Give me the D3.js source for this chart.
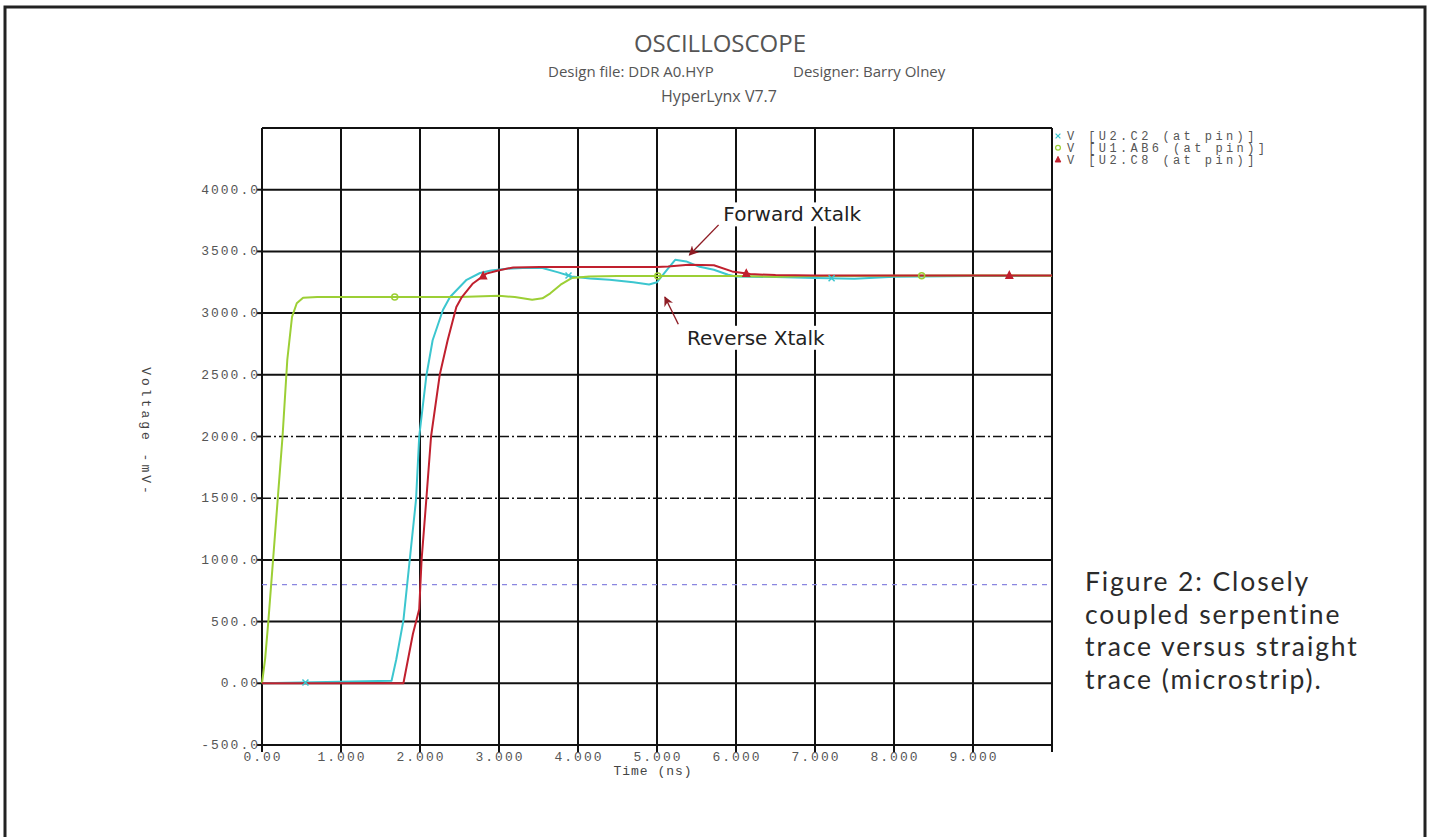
<!DOCTYPE html>
<html>
<head>
<meta charset="utf-8">
<script src="https://cdn.jsdelivr.net/npm/d3@7"></script>
<style>
  body { margin: 0; background: #fff; }
  svg { display: block; }
</style>
</head>
<body>
<svg id="chart" width="1433" height="837"></svg>
<script>
// axis ticks
const timeTicks = [0, 1, 2, 3, 4, 5, 6, 7, 8, 9];
const timeTickLabels = ['0.00', '1.000', '2.000', '3.000', '4.000', '5.000', '6.000', '7.000', '8.000', '9.000'];
const voltTicks = [-500, 0, 500, 1000, 1500, 2000, 2500, 3000, 3500, 4000];
const voltTickLabels = ['-500.0', '0.00', '500.0', '1000.0', '1500.0', '2000.0', '2500.0', '3000.0', '3500.0', '4000.0'];
const solidGridVolts = [-500, 0, 500, 1000, 2500, 3000, 3500, 4000, 4500];
const dashDotVolts = [1500, 2000];
const thresholdVolts = [800];

// V [U2.C2 (at pin)]  (cyan)
const c2Time = [0, 1.64, 1.70, 1.79, 1.87, 1.95, 1.99, 2.08, 2.16, 2.29, 2.38, 2.59, 2.76, 2.9, 3.1, 3.3, 3.55, 3.75, 3.92, 4.15, 4.4, 4.7, 4.9, 5.0, 5.1, 5.23, 5.37, 5.54, 5.72, 5.9, 6.0, 6.5, 7.0, 7.5, 8.0, 9.0, 10.0];
const c2Volts = [0, 20, 195, 510, 1000, 1490, 2000, 2490, 2780, 3025, 3130, 3270, 3325, 3345, 3360, 3365, 3365, 3330, 3297, 3280, 3270, 3250, 3232, 3250, 3330, 3432, 3419, 3375, 3351, 3311, 3297, 3292, 3285, 3278, 3295, 3300, 3302];
const c2Markers = [0.55, 3.88, 7.21];

// V [U1.AB6 (at pin)]  (green)
const ab6Time = [0, 0.04, 0.08, 0.14, 0.2, 0.26, 0.32, 0.38, 0.44, 0.52, 0.7, 1.5, 2.5, 3.0, 3.2, 3.42, 3.55, 3.65, 3.78, 3.92, 4.14, 4.5, 5.0, 5.5, 6.0, 6.5, 7.0, 8.0, 9.0, 10.0];
const ab6Volts = [0, 200, 500, 1000, 1500, 2000, 2620, 2970, 3080, 3125, 3130, 3130, 3130, 3140, 3130, 3108, 3120, 3160, 3230, 3284, 3297, 3300, 3300, 3300, 3300, 3295, 3300, 3302, 3305, 3303];
const ab6Markers = [1.68, 5.01, 8.35];

// V [U2.C8 (at pin)]  (red)
const c8Time = [0, 1.79, 1.91, 1.99, 2.02, 2.08, 2.14, 2.25, 2.35, 2.46, 2.53, 2.67, 2.84, 2.99, 3.18, 3.52, 4.0, 4.5, 5.0, 5.14, 5.4, 5.72, 5.95, 6.18, 6.5, 7.0, 8.0, 9.0, 10.0];
const c8Volts = [0, 0, 400, 600, 1000, 1490, 2000, 2500, 2780, 3050, 3130, 3240, 3320, 3345, 3370, 3373, 3373, 3373, 3373, 3378, 3392, 3388, 3338, 3316, 3308, 3305, 3305, 3305, 3305];
const c8Markers = [2.8, 6.13, 9.46];

const legendLabels = ['V [U2.C2 (at pin)]', 'V [U1.AB6 (at pin)]', 'V [U2.C8 (at pin)]'];
const seriesColors = ['#3cc6cf', '#9ccf35', '#c0202e'];
const markerKinds = ['x', 'o', 'tri'];

const titleLines = ['OSCILLOSCOPE', 'Design file: DDR A0.HYP', 'Designer: Barry Olney', 'HyperLynx V7.7'];
const captionLines = ['Figure 2: Closely', 'coupled serpentine', 'trace versus straight', 'trace (microstrip).'];

const series = [
  {time: c2Time, volts: c2Volts, markers: c2Markers},
  {time: ab6Time, volts: ab6Volts, markers: ab6Markers},
  {time: c8Time, volts: c8Volts, markers: c8Markers},
].map((s, i) => ({...s, color: seriesColors[i], kind: markerKinds[i], label: legendLabels[i]}));

const plot = {left: 262, right: 1052, top: 128, bottom: 745};
const x = d3.scaleLinear().domain([0, 10]).range([plot.left, plot.right]);
const y = d3.scaleLinear().domain([-500, 4500]).range([plot.bottom, plot.top]);

const svg = d3.select('#chart');
const mono = '"Liberation Mono", "DejaVu Sans Mono", monospace';

// outer frame (open at the bottom)
svg.append('path')
  .attr('d', 'M5,837 V7 H1425 V837')
  .attr('fill', 'none')
  .attr('stroke', '#222')
  .attr('stroke-width', 3);

// title block
const title = svg.append('g').attr('fill', '#555').attr('font-family', '"Open Sans", sans-serif');
title.append('text').attr('x', 720).attr('y', 52).attr('text-anchor', 'middle')
  .attr('font-size', 24).text(titleLines[0]);
title.append('text').attr('x', 548).attr('y', 77).attr('font-size', 15).text(titleLines[1]);
title.append('text').attr('x', 793).attr('y', 77).attr('font-size', 15).text(titleLines[2]);
title.append('text').attr('x', 719).attr('y', 102).attr('text-anchor', 'middle')
  .attr('font-size', 16).text(titleLines[3]);

// grid
const grid = svg.append('g').attr('stroke', '#111').attr('stroke-width', 2);
grid.selectAll('.vgrid')
  .data(d3.range(0, 11))
  .join('line')
  .attr('class', 'vgrid')
  .attr('x1', (d) => x(d)).attr('x2', (d) => x(d))
  .attr('y1', plot.top).attr('y2', plot.bottom + 7);
grid.selectAll('.hgrid')
  .data(solidGridVolts)
  .join('line')
  .attr('class', 'hgrid')
  .attr('x1', plot.left).attr('x2', plot.right)
  .attr('y1', (d) => y(d)).attr('y2', (d) => y(d));
grid.selectAll('.ytick')
  .data(voltTicks)
  .join('line')
  .attr('class', 'ytick')
  .attr('x1', plot.left - 5).attr('x2', plot.left)
  .attr('y1', (d) => y(d)).attr('y2', (d) => y(d));

svg.selectAll('.dashdot')
  .data(dashDotVolts)
  .join('line')
  .attr('class', 'dashdot')
  .attr('x1', plot.left).attr('x2', plot.right)
  .attr('y1', (d) => y(d)).attr('y2', (d) => y(d))
  .attr('stroke', '#111')
  .attr('stroke-width', 1.6)
  .attr('stroke-dasharray', '9,3,2,3');

svg.selectAll('.threshold')
  .data(thresholdVolts)
  .join('line')
  .attr('class', 'threshold')
  .attr('x1', plot.left).attr('x2', plot.right)
  .attr('y1', (d) => y(d)).attr('y2', (d) => y(d))
  .attr('stroke', '#8a86e0')
  .attr('stroke-width', 1.2)
  .attr('stroke-dasharray', '5,5');

// tick labels
svg.selectAll('.xlabel')
  .data(timeTicks)
  .join('text')
  .attr('class', 'xlabel')
  .attr('x', (d) => x(d) + 1)
  .attr('y', 761)
  .attr('text-anchor', 'middle')
  .attr('font-family', mono)
  .attr('font-size', 13)
  .attr('letter-spacing', 2)
  .attr('fill', '#555')
  .text((d, i) => timeTickLabels[i]);

svg.selectAll('.ylabel')
  .data(voltTicks)
  .join('text')
  .attr('class', 'ylabel')
  .attr('x', plot.left - 2)
  .attr('y', (d) => y(d) + 4)
  .attr('text-anchor', 'end')
  .attr('font-family', mono)
  .attr('font-size', 13)
  .attr('letter-spacing', 2)
  .attr('fill', '#555')
  .text((d, i) => voltTickLabels[i]);

svg.append('text')
  .attr('x', x(5) - 4)
  .attr('y', 775)
  .attr('text-anchor', 'middle')
  .attr('font-family', mono)
  .attr('font-size', 13)
  .attr('letter-spacing', 1)
  .attr('fill', '#444')
  .text('Time (ns)');

svg.append('text')
  .attr('transform', 'translate(142, 432) rotate(90)')
  .attr('text-anchor', 'middle')
  .attr('font-family', mono)
  .attr('font-size', 13)
  .attr('letter-spacing', 3)
  .attr('fill', '#444')
  .text('Voltage -mV-');

// waveforms
const line = d3.line()
  .x((d) => x(d[0]))
  .y((d) => y(d[1]));

const curves = svg.append('g').attr('fill', 'none').attr('stroke-width', 2).attr('stroke-linejoin', 'round');
curves.selectAll('path')
  .data(series)
  .join('path')
  .attr('stroke', (d) => d.color)
  .attr('d', (d) => line(d.time.map((t, i) => [t, d.volts[i]])));

function valueAt(s, t) {
  const i = d3.bisectRight(s.time, t);
  if (i <= 0) return s.volts[0];
  if (i >= s.time.length) return s.volts[s.volts.length - 1];
  const t0 = s.time[i - 1], t1 = s.time[i];
  const k = (t - t0) / (t1 - t0);
  return s.volts[i - 1] + k * (s.volts[i] - s.volts[i - 1]);
}

function drawMarker(g, kind, color) {
  if (kind === 'x') {
    g.append('path').attr('d', 'M-3,-3L3,3M-3,3L3,-3')
      .attr('stroke', color).attr('stroke-width', 1.5).attr('fill', 'none');
  } else if (kind === 'o') {
    g.append('circle').attr('r', 3)
      .attr('stroke', color).attr('stroke-width', 1.5).attr('fill', 'none');
  } else {
    g.append('path').attr('d', 'M0,-4L3.5,3H-3.5Z')
      .attr('stroke', color).attr('stroke-width', 1.2).attr('fill', color);
  }
}

series.forEach((s) => {
  s.markers.forEach((t) => {
    const g = svg.append('g').attr('transform', `translate(${x(t)}, ${y(valueAt(s, t))})`);
    drawMarker(g, s.kind, s.color);
  });
});

// legend
const legend = svg.append('g').attr('transform', 'translate(1058, 136)');
series.forEach((s, i) => {
  const row = legend.append('g').attr('transform', `translate(0, ${i * 11.8})`);
  drawMarker(row.append('g').attr('transform', 'scale(0.8)'), s.kind, s.color);
  row.append('text')
    .attr('x', 9)
    .attr('y', 4)
    .attr('font-family', mono)
    .attr('font-size', 12)
    .attr('letter-spacing', 3.4)
    .attr('fill', '#555')
    .text(s.label);
});

// annotations
svg.append('defs').append('marker')
  .attr('id', 'head')
  .attr('viewBox', '0 0 10 10')
  .attr('refX', 9).attr('refY', 5)
  .attr('markerWidth', 7).attr('markerHeight', 7)
  .attr('orient', 'auto')
  .append('path')
  .attr('d', 'M0,0L10,5L0,10L3,5Z')
  .attr('fill', '#8e1c24');

const notes = [
  {text: 'Forward Xtalk', at: [5.84, 3800], from: [5.78, 3715], to: [5.41, 3470]},
  {text: 'Reverse Xtalk', at: [5.38, 2800], from: [5.27, 2910], to: [5.1, 3130]},
];
notes.forEach((n) => {
  const label = svg.append('text')
    .attr('x', x(n.at[0]))
    .attr('y', y(n.at[1]))
    .attr('dominant-baseline', 'central')
    .attr('font-family', '"DejaVu Sans", sans-serif')
    .attr('font-size', 20)
    .attr('fill', '#222')
    .text(n.text);
  const box = label.node().getBBox();
  svg.insert('rect', () => label.node())
    .attr('x', box.x - 2).attr('y', box.y)
    .attr('width', box.width + 4).attr('height', box.height)
    .attr('fill', '#fff');
  svg.append('line')
    .attr('x1', x(n.from[0])).attr('y1', y(n.from[1]))
    .attr('x2', x(n.to[0])).attr('y2', y(n.to[1]))
    .attr('stroke', '#8e1c24')
    .attr('stroke-width', 1.4)
    .attr('marker-end', 'url(#head)');
});

// caption
svg.append('g')
  .selectAll('text')
  .data(captionLines)
  .join('text')
  .attr('x', 1085)
  .attr('y', (d, i) => 591 + i * 32.7)
  .attr('font-family', 'Lato, "Open Sans", sans-serif')
  .attr('font-size', 26.5)
  .attr('letter-spacing', 1.9)
  .attr('fill', '#2b2b2b')
  .text((d) => d);
</script>
</body>
</html>
